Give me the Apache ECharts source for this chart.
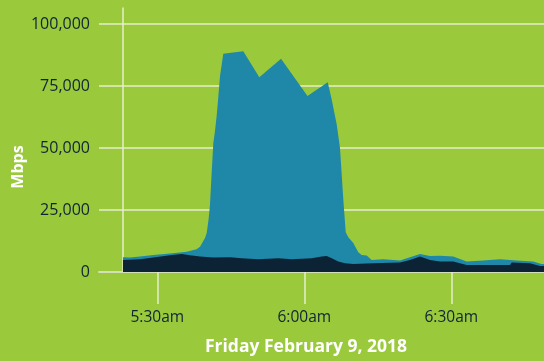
<!DOCTYPE html>
<html>
<head>
<meta charset="utf-8">
<script src="https://cdn.jsdelivr.net/npm/echarts@6/dist/echarts.min.js"></script>
<style>
  html, body { margin: 0; padding: 0; background: #9ac93c; }
  #chart { width: 544px; height: 361px; }
</style>
</head>
<body>
<div id="chart"></div>
<script>
// Total traffic (Mbps) over the morning
const totalTimes = ['5:23:00','5:24:26','5:26:28','5:29:11','5:32:36','5:36:00','5:38:00','5:38:43','5:39:44','5:40:05','5:40:27','5:40:45','5:41:04','5:41:26','5:41:47','5:42:07','5:42:23','5:42:48','5:43:28','5:47:33','5:50:49','5:55:15','6:00:39','6:04:47','6:05:36','6:06:37','6:07:17','6:07:58','6:08:27','6:08:59','6:10:00','6:11:01','6:11:43','6:12:44','6:13:45','6:16:07','6:19:32','6:21:34','6:23:37','6:25:39','6:27:41','6:30:24','6:33:08','6:36:32','6:39:56','6:43:21','6:46:44','6:48:22','6:49:00'];
const totalValues = [5900,5800,6200,6900,7500,8200,9200,10200,13700,15700,21000,27000,39000,52000,57000,63000,69000,79000,88000,89000,78500,86000,71000,76500,69500,59500,50000,29000,16000,14000,11700,8000,6900,6700,4800,5100,4600,5900,7300,6500,6600,6200,4200,4600,5100,4600,4200,3200,3200];

// Baseline traffic (Mbps)
const baseTimes = ['5:23:00','5:26:28','5:29:11','5:32:36','5:35:00','5:36:40','5:38:43','5:41:26','5:44:50','5:47:13','5:50:37','5:54:41','5:57:26','6:01:31','6:03:33','6:04:34','6:05:36','6:06:56','6:08:19','6:10:00','6:14:05','6:19:32','6:21:34','6:23:37','6:25:39','6:27:41','6:30:24','6:33:08','6:37:54','6:41:59','6:42:20','6:46:04','6:48:06','6:49:00'];
const baseValues = [4800,5100,5800,6800,7300,6800,6200,5800,5900,5500,5100,5500,5100,5500,6200,6500,5500,4200,3500,3200,3500,3800,4800,6200,4800,4200,4200,2800,2800,2800,3800,3500,2400,2400];

const xTickTimes = ['5:30','6:00','6:30'];
const xTickLabels = ['5:30am','6:00am','6:30am'];
const yTicks = [0, 25000, 50000, 75000, 100000];
const axisTitle = 'Friday February 9, 2018';
const unitName = 'Mbps';

// "H:MM[:SS]" -> minutes after midnight
function toMinutes(s) {
  const p = s.split(':').map(Number);
  return p[0] * 60 + p[1] + (p[2] || 0) / 60;
}
const pairs = (ts, vs) => ts.map((t, i) => [toMinutes(t), vs[i]]);

const pxPerMin = 4.9;
const plotLeft = 99, dataLeft = 123, plotRight = 544;
const firstT = toMinutes(totalTimes[0]);
const xMin = firstT - (dataLeft - plotLeft) / pxPerMin;
const xMax = firstT + (plotRight - dataLeft) / pxPerMin;
const tickVals = xTickTimes.map(toMinutes);

const labelColor = '#112436';
const gridColor = '#e4eecb';
const font = '"Open Sans", sans-serif';

const chart = echarts.init(document.getElementById('chart'), null, { renderer: 'canvas' });
chart.setOption({
  backgroundColor: '#9ac93c',
  animation: false,
  title: {
    text: axisTitle,
    left: 301,
    top: 333,
    textAlign: 'center',
    textStyle: { color: '#ffffff', fontFamily: font, fontWeight: 'bold', fontSize: 17.5 }
  },
  graphic: [{
    type: 'text',
    x: 18, y: 167,
    rotation: Math.PI / 2,
    style: {
      text: unitName, fill: '#ffffff', font: 'bold 16px "Open Sans", sans-serif',
      align: 'center', verticalAlign: 'middle'
    }
  }],
  grid: [
    { left: plotLeft, right: 0, top: 24, bottom: 89 },
    { left: dataLeft, right: 0, top: 8, bottom: 89 }
  ],
  xAxis: [{
    type: 'value', gridIndex: 0, min: xMin, max: xMax,
    splitLine: { show: false },
    axisLine: { show: true, lineStyle: { color: '#d3dfb6', width: 2 } },
    axisTick: {
      show: true, customValues: tickVals, length: 32,
      lineStyle: { color: gridColor, width: 1.5 }
    },
    axisLabel: {
      customValues: tickVals, margin: 38,
      color: labelColor, fontFamily: font, fontSize: 15.5,
      formatter: v => xTickLabels[tickVals.findIndex(t => Math.abs(t - v) < 0.01)] || ''
    }
  }, {
    type: 'value', gridIndex: 1, min: 0, max: 1, show: false
  }],
  yAxis: [{
    type: 'value', gridIndex: 0, min: yTicks[0], max: yTicks[yTicks.length - 1], interval: 25000,
    axisLine: { show: false },
    axisTick: { show: false },
    splitLine: { show: true, lineStyle: { color: gridColor, width: 1.5 } },
    axisLabel: {
      margin: 9, color: labelColor, fontFamily: font, fontSize: 16,
      formatter: v => v.toLocaleString('en-US')
    }
  }, {
    type: 'value', gridIndex: 1, min: 0, max: 1,
    axisLine: { show: true, lineStyle: { color: gridColor, width: 1.5 } },
    axisTick: { show: false }, axisLabel: { show: false }, splitLine: { show: false }
  }],
  series: [{
    type: 'line', xAxisIndex: 0, yAxisIndex: 0,
    data: pairs(totalTimes, totalValues),
    showSymbol: false, lineStyle: { width: 0 },
    areaStyle: { color: '#1f87a8', opacity: 1 }
  }, {
    type: 'line', xAxisIndex: 0, yAxisIndex: 0,
    data: pairs(baseTimes, baseValues),
    showSymbol: false, lineStyle: { width: 0 },
    areaStyle: { color: '#0b2334', opacity: 1 }
  }]
});
</script>
</body>
</html>
